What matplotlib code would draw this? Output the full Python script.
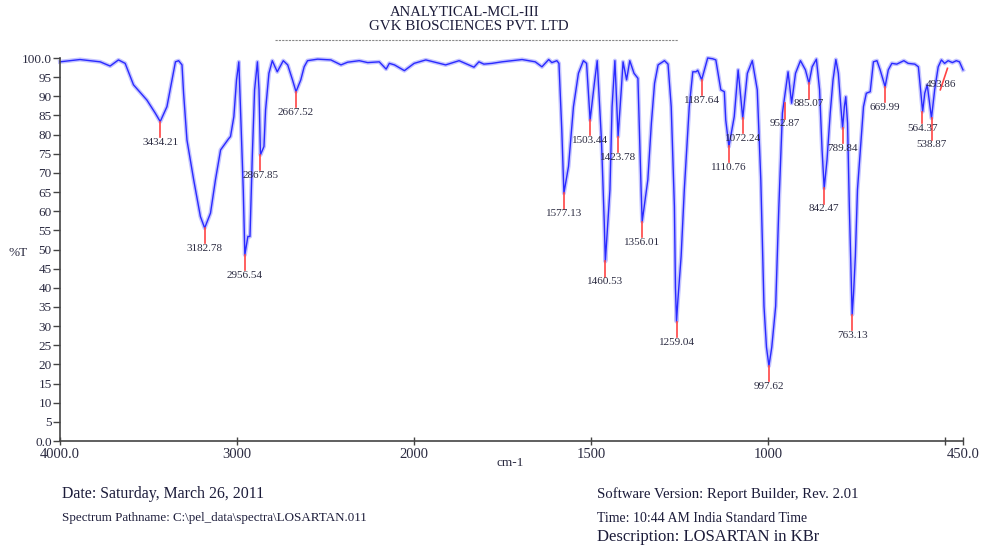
import matplotlib
matplotlib.use('Agg')
import matplotlib.pyplot as plt
import numpy as np

# spectrum (wavenumber cm-1, %T)
wavenumber = [4000, 3887, 3773, 3717, 3670, 3632, 3585, 3509, 3462, 3434, 3396, 3367,
              3348, 3330, 3311, 3302, 3283, 3245, 3207, 3183, 3150, 3122, 3093, 3048,
              3037, 3018, 3003, 2990, 2981, 2965, 2956, 2939, 2927, 2914, 2901, 2885,
              2876, 2868, 2848, 2839, 2820, 2801, 2773, 2739, 2714, 2687, 2667, 2640,
              2621, 2602, 2545, 2470, 2413, 2376, 2310, 2262, 2197, 2158, 2140, 2111,
              2055, 2000, 1967, 1911, 1873, 1831, 1817, 1803, 1780, 1752, 1695, 1658,
              1639, 1620, 1611, 1597, 1591, 1583, 1579, 1577, 1564, 1550, 1536, 1522,
              1513, 1503, 1491, 1483, 1471, 1463, 1460, 1447, 1441, 1433, 1424, 1415,
              1410, 1400, 1391, 1379, 1368, 1363, 1359, 1356, 1344, 1340, 1330, 1321,
              1311, 1293, 1283, 1274, 1265, 1262, 1259, 1255, 1246, 1237, 1223, 1213,
              1204, 1199, 1188, 1171, 1157, 1148, 1134, 1124, 1120, 1111, 1096, 1085,
              1072, 1059, 1045, 1031, 1021, 1012, 1005, 998, 990, 979, 970, 960,
              951, 944, 934, 923, 909, 895, 885, 876, 864, 855, 848, 842,
              834, 825, 817, 809, 802, 795, 790, 785, 781, 776, 771, 766,
              763, 759, 754, 748, 740, 731, 723, 712, 703, 693, 684, 670,
              661, 651, 637, 617, 605, 586, 576, 564, 558, 551, 539, 530,
              520, 511, 502, 492, 480, 469, 460, 450]
transmittance = [99.0, 99.6, 99.0, 97.9, 99.5, 98.6, 93.0, 89.0, 85.6, 83.4, 87.3, 94.3,
                 99.0, 99.3, 98.2, 90.8, 78.6, 68.2, 58.6, 55.6, 59.5, 68.2, 76.0, 78.9,
                 79.5, 84.7, 94.3, 99.0, 87.3, 65.6, 48.6, 53.4, 53.4, 74.3, 91.7, 99.0,
                 91.7, 74.7, 76.9, 86.4, 96.0, 99.3, 96.4, 99.3, 98.2, 94.3, 91.2, 94.3,
                 97.7, 99.3, 99.7, 99.5, 98.2, 98.9, 99.3, 98.8, 99.0, 97.1, 98.6, 98.2,
                 96.7, 98.6, 99.5, 98.2, 99.3, 97.6, 99.0, 98.4, 98.6, 99.0, 99.6, 99.0,
                 97.7, 99.6, 98.8, 99.3, 98.6, 81.2, 69.9, 64.7, 71.7, 87.3, 96.0, 99.3,
                 98.6, 83.8, 93.4, 99.3, 78.6, 56.9, 46.9, 65.6, 87.3, 99.3, 79.5, 91.7,
                 99.0, 94.3, 99.3, 96.0, 94.7, 78.6, 65.6, 57.3, 65.6, 68.2, 83.0, 93.4,
                 98.2, 99.3, 98.4, 87.3, 61.2, 40.0, 31.2, 37.0, 48.2, 65.6, 87.3, 96.4,
                 96.4, 96.8, 94.3, 100.0, 99.8, 99.5, 91.7, 91.2, 83.8, 76.9, 84.7, 96.9,
                 84.3, 96.0, 99.3, 91.7, 68.2, 35.2, 24.5, 19.6, 24.5, 35.2, 61.2, 85.6,
                 91.7, 96.4, 88.2, 96.0, 99.3, 96.9, 93.4, 97.7, 99.7, 91.7, 76.0, 66.0,
                 73.4, 85.6, 94.3, 99.6, 96.0, 87.3, 81.7, 87.3, 89.9, 83.0, 61.2, 43.9,
                 33.0, 38.6, 48.2, 65.6, 76.0, 87.3, 90.8, 91.2, 99.0, 99.3, 96.9, 92.5,
                 96.9, 98.6, 98.4, 99.3, 98.6, 98.4, 97.7, 86.0, 90.8, 93.0, 84.3, 91.7,
                 97.7, 99.5, 98.6, 99.3, 98.8, 99.3, 99.0, 96.9]

# picked peaks
peak_wn = [3434.21, 3182.78, 2956.54, 2867.85, 2667.52, 1577.13, 1503.44, 1460.53,
           1423.78, 1356.01, 1259.04, 1187.64, 1110.76, 1072.24, 997.62, 952.87,
           885.07, 842.47, 789.84, 763.13, 669.99, 564.37, 538.87]
peak_t = [83.4, 55.6, 48.6, 74.7, 91.2, 64.7, 83.8, 46.9,
          79.5, 57.3, 31.2, 94.3, 76.9, 84.3, 19.6, 88.2,
          93.4, 66.0, 81.7, 33.0, 92.5, 86.0, 84.3]
side_peak = (493.86, 97.3)

xticks = [4000, 3000, 2000, 1500, 1000, 500, 450]
xticklabels = ['4000.0', '3000', '2000', '1500', '1000', '', '450.0']
yticks = list(range(0, 101, 5))
yticklabels = ['0.0'] + [str(v) for v in yticks[1:-1]] + ['100.0']

SERIF = 'Liberation Serif'
TXT = '#2a2a40'
INK = '#1c1c3a'
RED = '#ff4444'
# leader length (in %T) where the report software staggered the labels
leader_len = {564.37: 3.0, 538.87: 5.6}


def fwd(x):
    x = np.asarray(x, dtype=float)
    return np.where(x > 2000, 2000 + (x - 2000) / 2.0, x)


def inv(y):
    y = np.asarray(y, dtype=float)
    return np.where(y > 2000, 2000 + (y - 2000) * 2.0, y)


W, H = 981, 546
fig = plt.figure(figsize=(W / 100, H / 100), dpi=100)
ax = fig.add_axes([60 / W, 1 - 441 / H, (963 - 60) / W, (441 - 58) / H])
ax.set_xscale('function', functions=(fwd, inv))

ax.plot(wavenumber, transmittance, color='#c4c4ff', lw=3.0, solid_joinstyle='round', clip_on=False)
ax.plot(wavenumber, transmittance, color='#2a2aff', lw=1.0, solid_joinstyle='round', clip_on=False)

for wn, t in zip(peak_wn, peak_t):
    ll = leader_len.get(wn, 4.0)
    ax.plot([wn, wn], [t, t - ll], color=RED, lw=1.2)
    ax.text(wn, t - ll - 0.2, '%.2f' % wn, ha='center', va='top', fontsize=8,
            family=SERIF, color=TXT)
# 493.86 has its label pulled aside with a slanted leader
ax.plot([side_peak[0], 514], [side_peak[1], 91.7], color=RED, lw=1.2)
ax.text(511, 93.1, '%.2f' % side_peak[0], ha='center', va='center', fontsize=8,
        family=SERIF, color=TXT)

ax.set_xlim(4000, 450)
ax.set_ylim(0, 100)
ax.set_xticks(xticks)
ax.set_xticklabels(xticklabels)
ax.set_yticks(yticks)
ax.set_yticklabels(yticklabels)
ax.minorticks_off()
for s in ['top', 'right']:
    ax.spines[s].set_visible(False)
for s in ['left', 'bottom']:
    ax.spines[s].set_color('#444444')
    ax.spines[s].set_linewidth(1.2)
ax.tick_params(axis='y', direction='out', length=5, width=1, pad=1, colors='#444444',
               labelsize=9.5, labelcolor=TXT)
ax.tick_params(axis='x', direction='inout', length=6, width=1, pad=2, colors='#444444',
               labelsize=10.5, labelcolor=TXT)
for lab in ax.get_xticklabels() + ax.get_yticklabels():
    lab.set_family(SERIF)

# header
fig.text(465 / W, 1 - 12 / H, 'ANALYTICAL-MCL-III', ha='center', va='center',
         fontsize=10.6, family=SERIF, color=INK)
fig.text(469 / W, 1 - 27 / H, 'GVK BIOSCIENCES PVT. LTD', ha='center', va='center',
         fontsize=10.8, family=SERIF, color=INK)
fig.add_artist(plt.Line2D([275 / W, 678 / W], [1 - 40 / H, 1 - 40 / H], color='#888888',
                          lw=0.8, ls=(0, (2, 1))))

fig.text(18 / W, 1 - 253 / H, '%T', ha='center', va='center', fontsize=9.5, family=SERIF, color=TXT)
fig.text(510 / W, 1 - 463 / H, 'cm-1', ha='center', va='center', fontsize=9.5, family=SERIF, color=TXT)

# footer
fig.text(62 / W, 1 - 494 / H, 'Date: Saturday, March 26, 2011', ha='left', va='center',
         fontsize=11.4, family=SERIF, color=INK)
fig.text(62 / W, 1 - 518 / H, 'Spectrum Pathname: C:\\pel_data\\spectra\\LOSARTAN.011', ha='left',
         va='center', fontsize=9.4, family=SERIF, color=INK)
fig.text(597 / W, 1 - 494 / H, 'Software Version: Report Builder, Rev. 2.01', ha='left',
         va='center', fontsize=10.6, family=SERIF, color=INK)
fig.text(597 / W, 1 - 518 / H, 'Time: 10:44 AM India Standard Time', ha='left', va='center',
         fontsize=10, family=SERIF, color=INK)
fig.text(597 / W, 1 - 537 / H, 'Description: LOSARTAN in KBr', ha='left', va='center',
         fontsize=12, family=SERIF, color=INK)

fig.savefig('out.png', dpi=100)
